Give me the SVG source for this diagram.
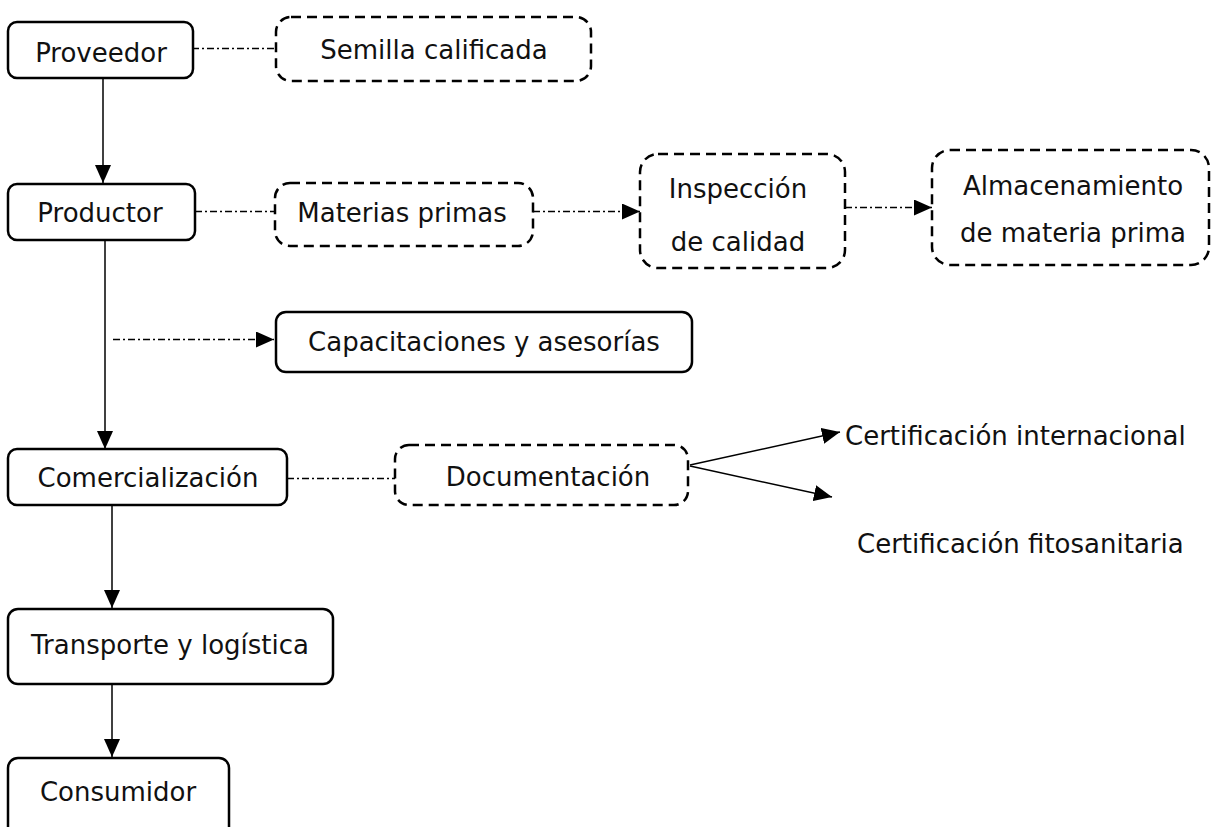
<svg xmlns="http://www.w3.org/2000/svg" width="1211" height="827" viewBox="0 0 1211 827">
<style>
  .box { fill: #fff; stroke: #000; stroke-width: 2.5; }
  .dbox { fill: #fff; stroke: #000; stroke-width: 2.5; stroke-dasharray: 10 6; }
  .t { font-family: "DejaVu Sans", "Liberation Sans", sans-serif; font-size: 26px; fill: #111; text-anchor: middle; }
  .tl { font-family: "DejaVu Sans", "Liberation Sans", sans-serif; font-size: 26px; fill: #111; text-anchor: start; }
  .solid { stroke: #000; stroke-width: 1.5; fill: none; }
  .dd { stroke: #000; stroke-width: 1.5; fill: none; stroke-dasharray: 7 3 2 3; }
</style>
<defs>
  <marker id="ah" viewBox="0 0 18 16" markerWidth="18" markerHeight="16" refX="18" refY="8" orient="auto" markerUnits="userSpaceOnUse">
    <path d="M0,0 L18,8 L0,16 z" fill="#000"/>
  </marker>
</defs>
<rect width="1211" height="827" fill="#fff"/>

<g id="connectors">
  <line class="dd" x1="192" y1="48.5" x2="276" y2="48.5"/>
  <line class="solid" x1="103" y1="78" x2="103" y2="183" marker-end="url(#ah)"/>
  <line class="dd" x1="195" y1="211.5" x2="275" y2="211.5"/>
  <line class="dd" x1="533" y1="211.5" x2="640" y2="211.5" marker-end="url(#ah)"/>
  <line class="dd" x1="845" y1="207.5" x2="932" y2="207.5" marker-end="url(#ah)"/>
  <line class="solid" x1="105" y1="240" x2="105" y2="449" marker-end="url(#ah)"/>
  <line class="dd" x1="113" y1="339.5" x2="274" y2="339.5" marker-end="url(#ah)"/>
  <line class="dd" x1="287" y1="478.5" x2="395" y2="478.5"/>
  <line class="solid" x1="690" y1="465" x2="840" y2="432" marker-end="url(#ah)"/>
  <line class="solid" x1="690" y1="466" x2="832" y2="497" marker-end="url(#ah)"/>
  <line class="solid" x1="112" y1="505" x2="112" y2="608" marker-end="url(#ah)"/>
  <line class="solid" x1="112" y1="684" x2="112" y2="757" marker-end="url(#ah)"/>
</g>

<g id="proveedor">
  <rect class="box" x="8" y="22" width="185" height="56" rx="9"/>
  <text class="t" x="101" y="62">Proveedor</text>
</g>
<g id="semilla">
  <rect class="dbox" x="276" y="17" width="315" height="64" rx="15"/>
  <text class="t" x="434" y="59">Semilla calificada</text>
</g>
<g id="productor">
  <rect class="box" x="8" y="184" width="187" height="56" rx="9"/>
  <text class="t" x="100" y="222">Productor</text>
</g>
<g id="materias">
  <rect class="dbox" x="275" y="183" width="258" height="63" rx="15"/>
  <text class="t" x="402" y="222">Materias primas</text>
</g>
<g id="inspeccion">
  <rect class="dbox" x="640" y="154" width="205" height="114" rx="18"/>
  <text class="t" x="738" y="198">Inspección</text>
  <text class="t" x="738" y="251">de calidad</text>
</g>
<g id="almacenamiento">
  <rect class="dbox" x="932" y="150" width="277" height="115" rx="18"/>
  <text class="t" x="1073" y="195">Almacenamiento</text>
  <text class="t" x="1073" y="242">de materia prima</text>
</g>
<g id="capacitaciones">
  <rect class="box" x="276" y="312" width="416" height="60" rx="10"/>
  <text class="t" x="484" y="351">Capacitaciones y asesorías</text>
</g>
<g id="comercializacion">
  <rect class="box" x="8" y="449" width="279" height="56" rx="9"/>
  <text class="t" x="148" y="487">Comercialización</text>
</g>
<g id="documentacion">
  <rect class="dbox" x="395" y="445" width="293" height="60" rx="14"/>
  <text class="t" x="548" y="486">Documentación</text>
</g>
<g id="cert-internacional">
  <text class="tl" x="845" y="445">Certificación internacional</text>
</g>
<g id="cert-fitosanitaria">
  <text class="tl" x="857" y="553">Certificación fitosanitaria</text>
</g>
<g id="transporte">
  <rect class="box" x="8" y="609" width="325" height="75" rx="10"/>
  <text class="t" x="170" y="654">Transporte y logística</text>
</g>
<g id="consumidor">
  <rect class="box" x="8" y="758" width="221" height="80" rx="10"/>
  <text class="t" x="118" y="801">Consumidor</text>
</g>
</svg>
